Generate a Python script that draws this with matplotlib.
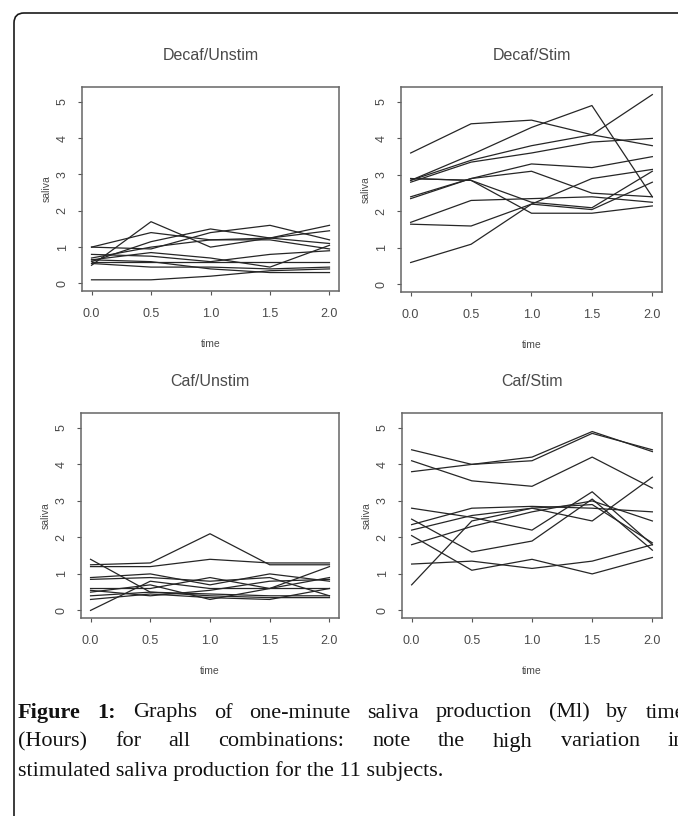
import matplotlib
matplotlib.use("Agg")
import matplotlib.pyplot as plt
from matplotlib.patches import FancyBboxPatch
from matplotlib.transforms import IdentityTransform

# time points (hours)
time = [0.0, 0.5, 1.0, 1.5, 2.0]

# one-minute saliva production, 11 subjects per panel
decaf_unstim = [
    [0.5, 1.7, 1.0, 1.25, 1.1],
    [1.0, 1.4, 1.2, 1.2, 0.95],
    [1.0, 0.95, 1.4, 1.6, 1.2],
    [0.6, 1.15, 1.5, 1.25, 1.6],
    [0.7, 1.0, 1.2, 1.25, 1.45],
    [0.65, 0.85, 0.7, 0.45, 1.05],
    [0.8, 0.75, 0.6, 0.8, 0.9],
    [0.6, 0.6, 0.6, 0.6, 0.6],
    [0.55, 0.45, 0.45, 0.4, 0.45],
    [0.65, 0.6, 0.4, 0.3, 0.3],
    [0.1, 0.1, 0.2, 0.35, 0.4],
]
decaf_stim = [
    [3.6, 4.4, 4.5, 4.1, 3.8],
    [2.85, 3.55, 4.3, 4.9, 2.4],
    [2.85, 3.4, 3.8, 4.1, 5.2],
    [2.8, 3.35, 3.6, 3.9, 4.0],
    [2.35, 2.9, 3.3, 3.2, 3.5],
    [2.4, 2.9, 3.1, 2.5, 2.4],
    [2.9, 2.85, 2.25, 2.1, 3.1],
    [2.9, 2.85, 1.95, 1.95, 2.15],
    [1.7, 2.3, 2.35, 2.4, 2.25],
    [1.65, 1.6, 2.2, 2.05, 2.8],
    [0.6, 1.1, 2.2, 2.9, 3.15],
]
caf_unstim = [
    [1.25, 1.3, 2.1, 1.25, 1.25],
    [1.2, 1.2, 1.4, 1.3, 1.3],
    [1.4, 0.5, 0.45, 0.4, 0.4],
    [0.0, 0.8, 0.6, 0.6, 1.2],
    [0.9, 1.0, 0.7, 1.0, 0.8],
    [0.85, 0.9, 0.8, 0.9, 0.4],
    [0.6, 0.6, 0.9, 0.6, 0.9],
    [0.55, 0.4, 0.55, 0.8, 0.85],
    [0.5, 0.7, 0.3, 0.6, 0.6],
    [0.4, 0.5, 0.4, 0.35, 0.35],
    [0.3, 0.45, 0.35, 0.3, 0.6],
]
caf_stim = [
    [4.4, 4.0, 4.2, 4.9, 4.35],
    [3.8, 4.0, 4.1, 4.85, 4.4],
    [4.1, 3.55, 3.4, 4.2, 3.35],
    [2.8, 2.55, 2.2, 3.25, 1.8],
    [2.5, 1.6, 1.9, 3.05, 1.65],
    [2.35, 2.8, 2.85, 2.8, 2.7],
    [0.7, 2.45, 2.8, 2.45, 3.65],
    [1.8, 2.3, 2.7, 3.0, 2.45],
    [2.2, 2.6, 2.8, 2.9, 1.85],
    [2.05, 1.1, 1.4, 1.0, 1.45],
    [1.27, 1.35, 1.15, 1.35, 1.8],
]

panel_titles = ["Decaf/Unstim", "Decaf/Stim", "Caf/Unstim", "Caf/Stim"]
panel_data = [decaf_unstim, decaf_stim, caf_unstim, caf_stim]
x_ticks = [0.0, 0.5, 1.0, 1.5, 2.0]
x_tick_labels = ["0.0", "0.5", "1.0", "1.5", "2.0"]
y_ticks = [0, 1, 2, 3, 4, 5]

caption_lines = [
    "Figure 1: Graphs of one-minute saliva production (Ml) by time",
    "(Hours) for all combinations: note the high variation in",
    "stimulated saliva production for the 11 subjects.",
]

W, H = 678, 816
fig = plt.figure(figsize=(W / 100, H / 100), dpi=100)
fig.patch.set_facecolor("white")

# axes boxes in pixels: left, top, right, bottom
boxes = [(82, 87, 339, 291), (401, 87, 662, 292),
         (81, 413, 339, 618), (402, 413, 662, 618)]

sans = "Liberation Sans"
txt_col = "#4a4a4a"

for (l, t, r, b), title, data in zip(boxes, panel_titles, panel_data):
    ax = fig.add_axes([l / W, 1 - b / H, (r - l) / W, (b - t) / H])
    for subj in data:
        ax.plot(time, subj, color="#262626", lw=0.9)
    ax.set_xlim(-0.08, 2.08)
    ax.set_ylim(-0.208, 5.408)
    ax.set_xticks(x_ticks, x_tick_labels)
    ax.set_yticks(y_ticks)
    ax.tick_params(direction="out", length=3, width=0.8, colors="#555555",
                   labelsize=9, pad=6.5)
    ax.tick_params(axis="x", pad=9.5)
    for lab in ax.get_xticklabels() + ax.get_yticklabels():
        lab.set_fontfamily(sans)
        lab.set_color(txt_col)
    for lab in ax.get_yticklabels():
        lab.set_rotation(90)
        lab.set_va("center")
    for sp in ax.spines.values():
        sp.set_color("#666666")
        sp.set_linewidth(1.1)
    wpx, hpx = r - l, b - t
    ax.text(0.5, 1 + 31 / hpx, title, transform=ax.transAxes, ha="center",
            va="center", fontsize=11.5, family=sans, color=txt_col)
    ax.text(0.5, -53 / hpx, "time", transform=ax.transAxes, ha="center",
            va="center", fontsize=7.5, family=sans, color=txt_col)
    ax.text(-35 / wpx, 0.5, "saliva", transform=ax.transAxes, ha="center",
            va="center", rotation=90, fontsize=7.5, family=sans, color=txt_col)

# rounded frame around the figure
frame = FancyBboxPatch((14, -30), 720, 816 - 13 + 30,
                       boxstyle="round,pad=0,rounding_size=10",
                       ec="#1a1a1a", fc="none", lw=1.2,
                       transform=IdentityTransform())
fig.add_artist(frame)

# caption, first two lines justified (and running past the right edge)
serif = "Liberation Serif"
cap_size = 16
line_y = [713, 742, 771]
left_px, right_px = 18, 685
renderer = fig.canvas.get_renderer()
for i, line in enumerate(caption_lines):
    y = 1 - line_y[i] / H
    if i < 2:
        words = line.split()
        texts = []
        for j, w in enumerate(words):
            bold = (i == 0 and j < 2)
            texts.append(fig.text(0, y, w, fontsize=cap_size, family=serif,
                                  weight="bold" if bold else "normal",
                                  va="center", ha="left", color="#111111"))
        widths = [tx.get_window_extent(renderer).width for tx in texts]
        gap = (right_px - left_px - sum(widths)) / (len(words) - 1)
        x = left_px
        for tx, wd in zip(texts, widths):
            tx.set_x(x / W)
            x += wd + gap
    else:
        fig.text(left_px / W, y, line, fontsize=cap_size, family=serif,
                 va="center", ha="left", color="#111111")

fig.savefig("out.png", dpi=100)
